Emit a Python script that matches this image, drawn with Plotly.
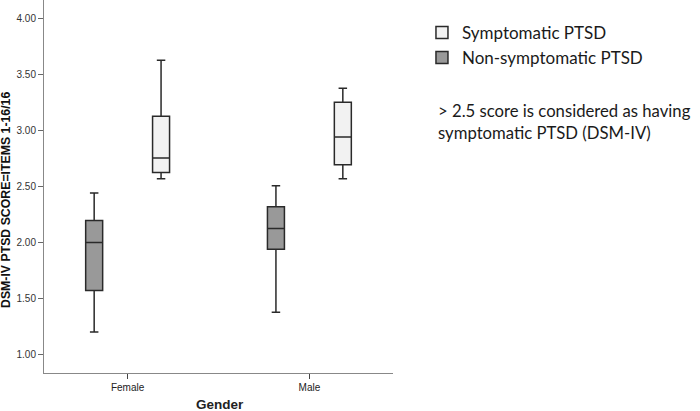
import plotly.graph_objects as go

genders = ["Female", "Male"]

# Non-symptomatic PTSD
non_q1 = [1.57, 1.94]
non_median = [2.00, 2.125]
non_q3 = [2.195, 2.318]
non_low = [1.20, 1.378]
non_high = [2.44, 2.505]

# Symptomatic PTSD
sym_q1 = [2.625, 2.693]
sym_median = [2.753, 2.94]
sym_q3 = [3.125, 3.25]
sym_low = [2.568, 2.568]
sym_high = [3.625, 3.375]

y_ticks = [1.0, 1.5, 2.0, 2.5, 3.0, 3.5, 4.0]
y_ticktext = ["1.00", "1.50", "2.00", "2.50", "3.00", "3.50", "4.00"]

fig = go.Figure()
fig.add_trace(go.Box(
    name="Non-symptomatic PTSD", x=genders,
    q1=non_q1, median=non_median, q3=non_q3,
    lowerfence=non_low, upperfence=non_high,
    fillcolor="#999999", line=dict(color="#2a2a2a", width=1.5),
    boxpoints=False, hoverinfo="skip", whiskerwidth=0.5,
))
fig.add_trace(go.Box(
    name="Symptomatic PTSD", x=genders,
    q1=sym_q1, median=sym_median, q3=sym_q3,
    lowerfence=sym_low, upperfence=sym_high,
    fillcolor="#f2f2f2", line=dict(color="#2a2a2a", width=1.5),
    boxpoints=False, hoverinfo="skip", whiskerwidth=0.5,
))

fig.update_layout(
    width=700, height=411,
    margin=dict(l=44, r=307, t=0, b=38, autoexpand=False),
    paper_bgcolor="white", plot_bgcolor="white",
    boxmode="group", boxgap=0.264, boxgroupgap=0.746,
    showlegend=True,
    legend=dict(
        x=1.083, y=0.96, xanchor="left", yanchor="top",
        traceorder="reversed",
        font=dict(family="Lato", size=17, color="#1a1a1a"),
        itemwidth=30, tracegroupgap=0, bgcolor="rgba(0,0,0,0)",
    ),
    font=dict(family="Liberation Sans, Arial", color="#222"),
    annotations=[
        dict(
            xref="paper", yref="paper", x=1.122, y=0.673,
            xanchor="left", yanchor="middle", align="left",
            text="> 2.5 score is considered as having<br>symptomatic PTSD (DSM-IV)",
            showarrow=False,
            font=dict(family="Lato", size=16.7, color="#1a1a1a"),
        ),
        dict(
            xref="paper", yref="paper", x=(220 - 44) / 349, y=-(404 - 373) / 373,
            xanchor="center", yanchor="middle",
            text="<b>Gender</b>", showarrow=False,
            font=dict(family="Liberation Sans, Arial", size=13.5, color="#222"),
        ),
        dict(
            xref="paper", yref="paper", x=-(44 - 6) / 349, y=1 - 200 / 373,
            xanchor="center", yanchor="middle", textangle=-90,
            text="<b>DSM-IV PTSD SCORE=ITEMS 1-16/16</b>", showarrow=False,
            font=dict(family="Liberation Sans, Arial", size=12.3, color="#111"),
        ),
    ],
)

fig.update_xaxes(
    range=[-0.46, 1.46], showline=True, linecolor="#888", linewidth=1,
    ticks="outside", ticklen=5, tickcolor="#444", showgrid=False, zeroline=False,
    tickfont=dict(size=10, color="#222"), automargin=False,
)
fig.update_yaxes(
    range=[0.835, 4.163], showline=True, linecolor="#888", linewidth=1,
    ticks="outside", ticklen=5, tickcolor="#666", showgrid=False, zeroline=False,
    tickvals=y_ticks, ticktext=y_ticktext,
    tickfont=dict(size=10, color="#333"), automargin=False,
)

fig.write_html(
    "out.html",
    config={"displayModeBar": False},
    post_script="document.body.style.margin='0';document.body.style.overflow='hidden';",
)
